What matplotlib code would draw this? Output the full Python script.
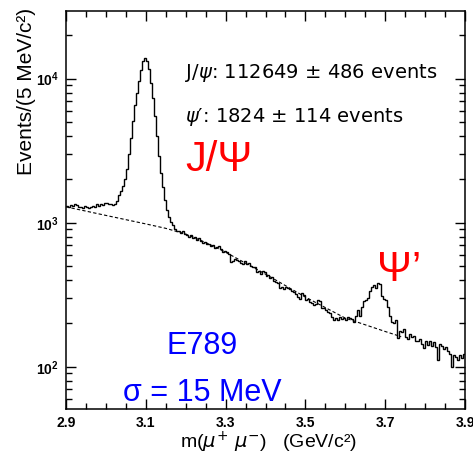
import numpy as np
import matplotlib.pyplot as plt
from matplotlib.ticker import MultipleLocator, LogLocator, FixedLocator, NullFormatter

plt.rcParams['font.family'] = ['Liberation Sans', 'DejaVu Sans']
plt.rcParams['mathtext.fontset'] = 'custom'
plt.rcParams['mathtext.rm'] = 'DejaVu Sans'
plt.rcParams['mathtext.it'] = 'DejaVu Sans:italic'
plt.rcParams['mathtext.bf'] = 'Liberation Sans:bold'

# dimuon mass histogram, 5 MeV bins from 2.9 to 3.9 GeV
m_lo, m_hi, n_bins = 2.9, 3.9, 200
counts = np.array([
    1310, 1290, 1320, 1300, 1350, 1330, 1290, 1280, 1270, 1300,
    1280, 1260, 1290, 1310, 1280, 1340, 1300, 1360, 1320, 1370,
    1380, 1340, 1360, 1320, 1350,
    1420, 1560, 1650, 1790, 2000, 2350, 3000, 3850, 5100, 6600,
    8000, 9600, 11500, 13200, 14000, 13300, 11600, 9400, 7400, 5500,
    4000, 2900, 2200, 1780,
    1450, 1230, 1100, 1020, 960, 900,
    880, 870, 850, 880, 830, 820, 800, 820, 780, 800,
    760, 780, 745, 720, 730, 710, 715, 690, 700, 670,
    680, 690, 660, 630, 640, 625, 610, 535, 540, 560,
    550, 545, 530, 520, 540, 515, 525, 500, 495, 490,
    455, 460, 440, 460, 455, 430, 435, 415, 420, 395,
    390, 380, 355, 360, 345,
    360, 350, 345, 335, 330, 320, 305, 295, 325, 315,
    292, 295, 280, 278, 270, 272, 292, 288, 258, 255,
    250, 240, 238, 222, 212, 220, 212, 222, 214, 220,
    212, 222, 218, 215, 205, 225, 250, 225, 262, 285,
    292, 300, 335, 360, 372, 355, 380, 375, 310, 295,
    290, 262,
    225, 205, 200, 210, 158, 178, 175, 182, 160, 155,
    168, 162, 165, 152, 150, 155, 145, 136, 152, 142,
    150, 140, 148, 138, 112, 145, 140, 132, 138, 128,
    122, 100, 120, 118, 112, 120, 115, 123,
])

# background fit (dashed)
bkg_mass = [2.9, 3.0, 3.1, 3.15, 3.2, 3.25, 3.3, 3.4, 3.5, 3.6, 3.7, 3.74]
bkg_counts = [1290, 1125, 982, 915, 835, 730, 625, 440, 305, 218, 176, 162]

x_ticks = [2.9, 3.1, 3.3, 3.5, 3.7, 3.9]
x_ticklabels = ['2.9', '3.1', '3.3', '3.5', '3.7', '3.9']
y_ticks = [1e2, 1e3, 1e4]
y_ticklabels = [r'$\mathbf{10^{2}}$', r'$\mathbf{10^{3}}$', r'$\mathbf{10^{4}}$']

edges = np.linspace(m_lo, m_hi, n_bins + 1)

fig = plt.figure(figsize=(4.73, 4.54), dpi=100)
ax = fig.add_axes([66 / 473, 1 - 409 / 454, 399 / 473, 398 / 454])

ax.plot(bkg_mass, bkg_counts, color='black', ls=(0, (3, 2)), lw=0.8, zorder=2)
ax.stairs(counts, edges, baseline=None, color='black', lw=1.0, zorder=3)

ax.set_yscale('log')
ax.set_xlim(m_lo, m_hi)
ax.set_ylim(51, 29500)

ax.set_xticks(x_ticks)
ax.set_xticklabels(x_ticklabels, fontweight='bold')
ax.xaxis.set_minor_locator(MultipleLocator(0.05))
ax.yaxis.set_major_locator(FixedLocator(y_ticks))
ax.set_yticklabels(y_ticklabels)
ax.yaxis.set_minor_locator(LogLocator(base=10, subs=range(2, 10)))
ax.yaxis.set_minor_formatter(NullFormatter())
ax.tick_params(which='both', direction='in', top=True, right=True, width=1)
ax.tick_params(which='major', length=7, labelsize=10, pad=5)
ax.tick_params(which='minor', length=4)
for s in ax.spines.values():
    s.set_linewidth(1.1)

fig.text(27 / 473, 1 - 8 / 454, 'Events/(5 MeV/c²)', rotation=90,
         ha='center', va='top', fontsize=15)
fig.text(268 / 473, 1 - 442 / 454, r'm($\mu^{+}\ \mu^{-}$)   (GeV/c²)',
         ha='center', va='center', fontsize=14)

ax.text(0.298, 0.844, r'J/$\psi$: 112649 ± 486 events', family='DejaVu Sans',
        transform=ax.transAxes, ha='left', va='center', fontsize=14)
ax.text(0.298, 0.734, r'$\psi$′: 1824 ± 114 events', family='DejaVu Sans',
        transform=ax.transAxes, ha='left', va='center', fontsize=14)
ax.text(0.298, 0.626, 'J/Ψ', transform=ax.transAxes, ha='left', va='center',
        fontsize=30, color='red')
ax.text(0.779, 0.349, 'Ψ’', transform=ax.transAxes, ha='left', va='center',
        fontsize=30, color='red')
ax.text(0.341, 0.158, 'E789', transform=ax.transAxes, ha='center', va='center',
        fontsize=22, color='blue')
ax.text(0.341, 0.040, 'σ = 15 MeV', transform=ax.transAxes, ha='center', va='center',
        fontsize=22, color='blue')

fig.savefig('out.png', dpi=100)
